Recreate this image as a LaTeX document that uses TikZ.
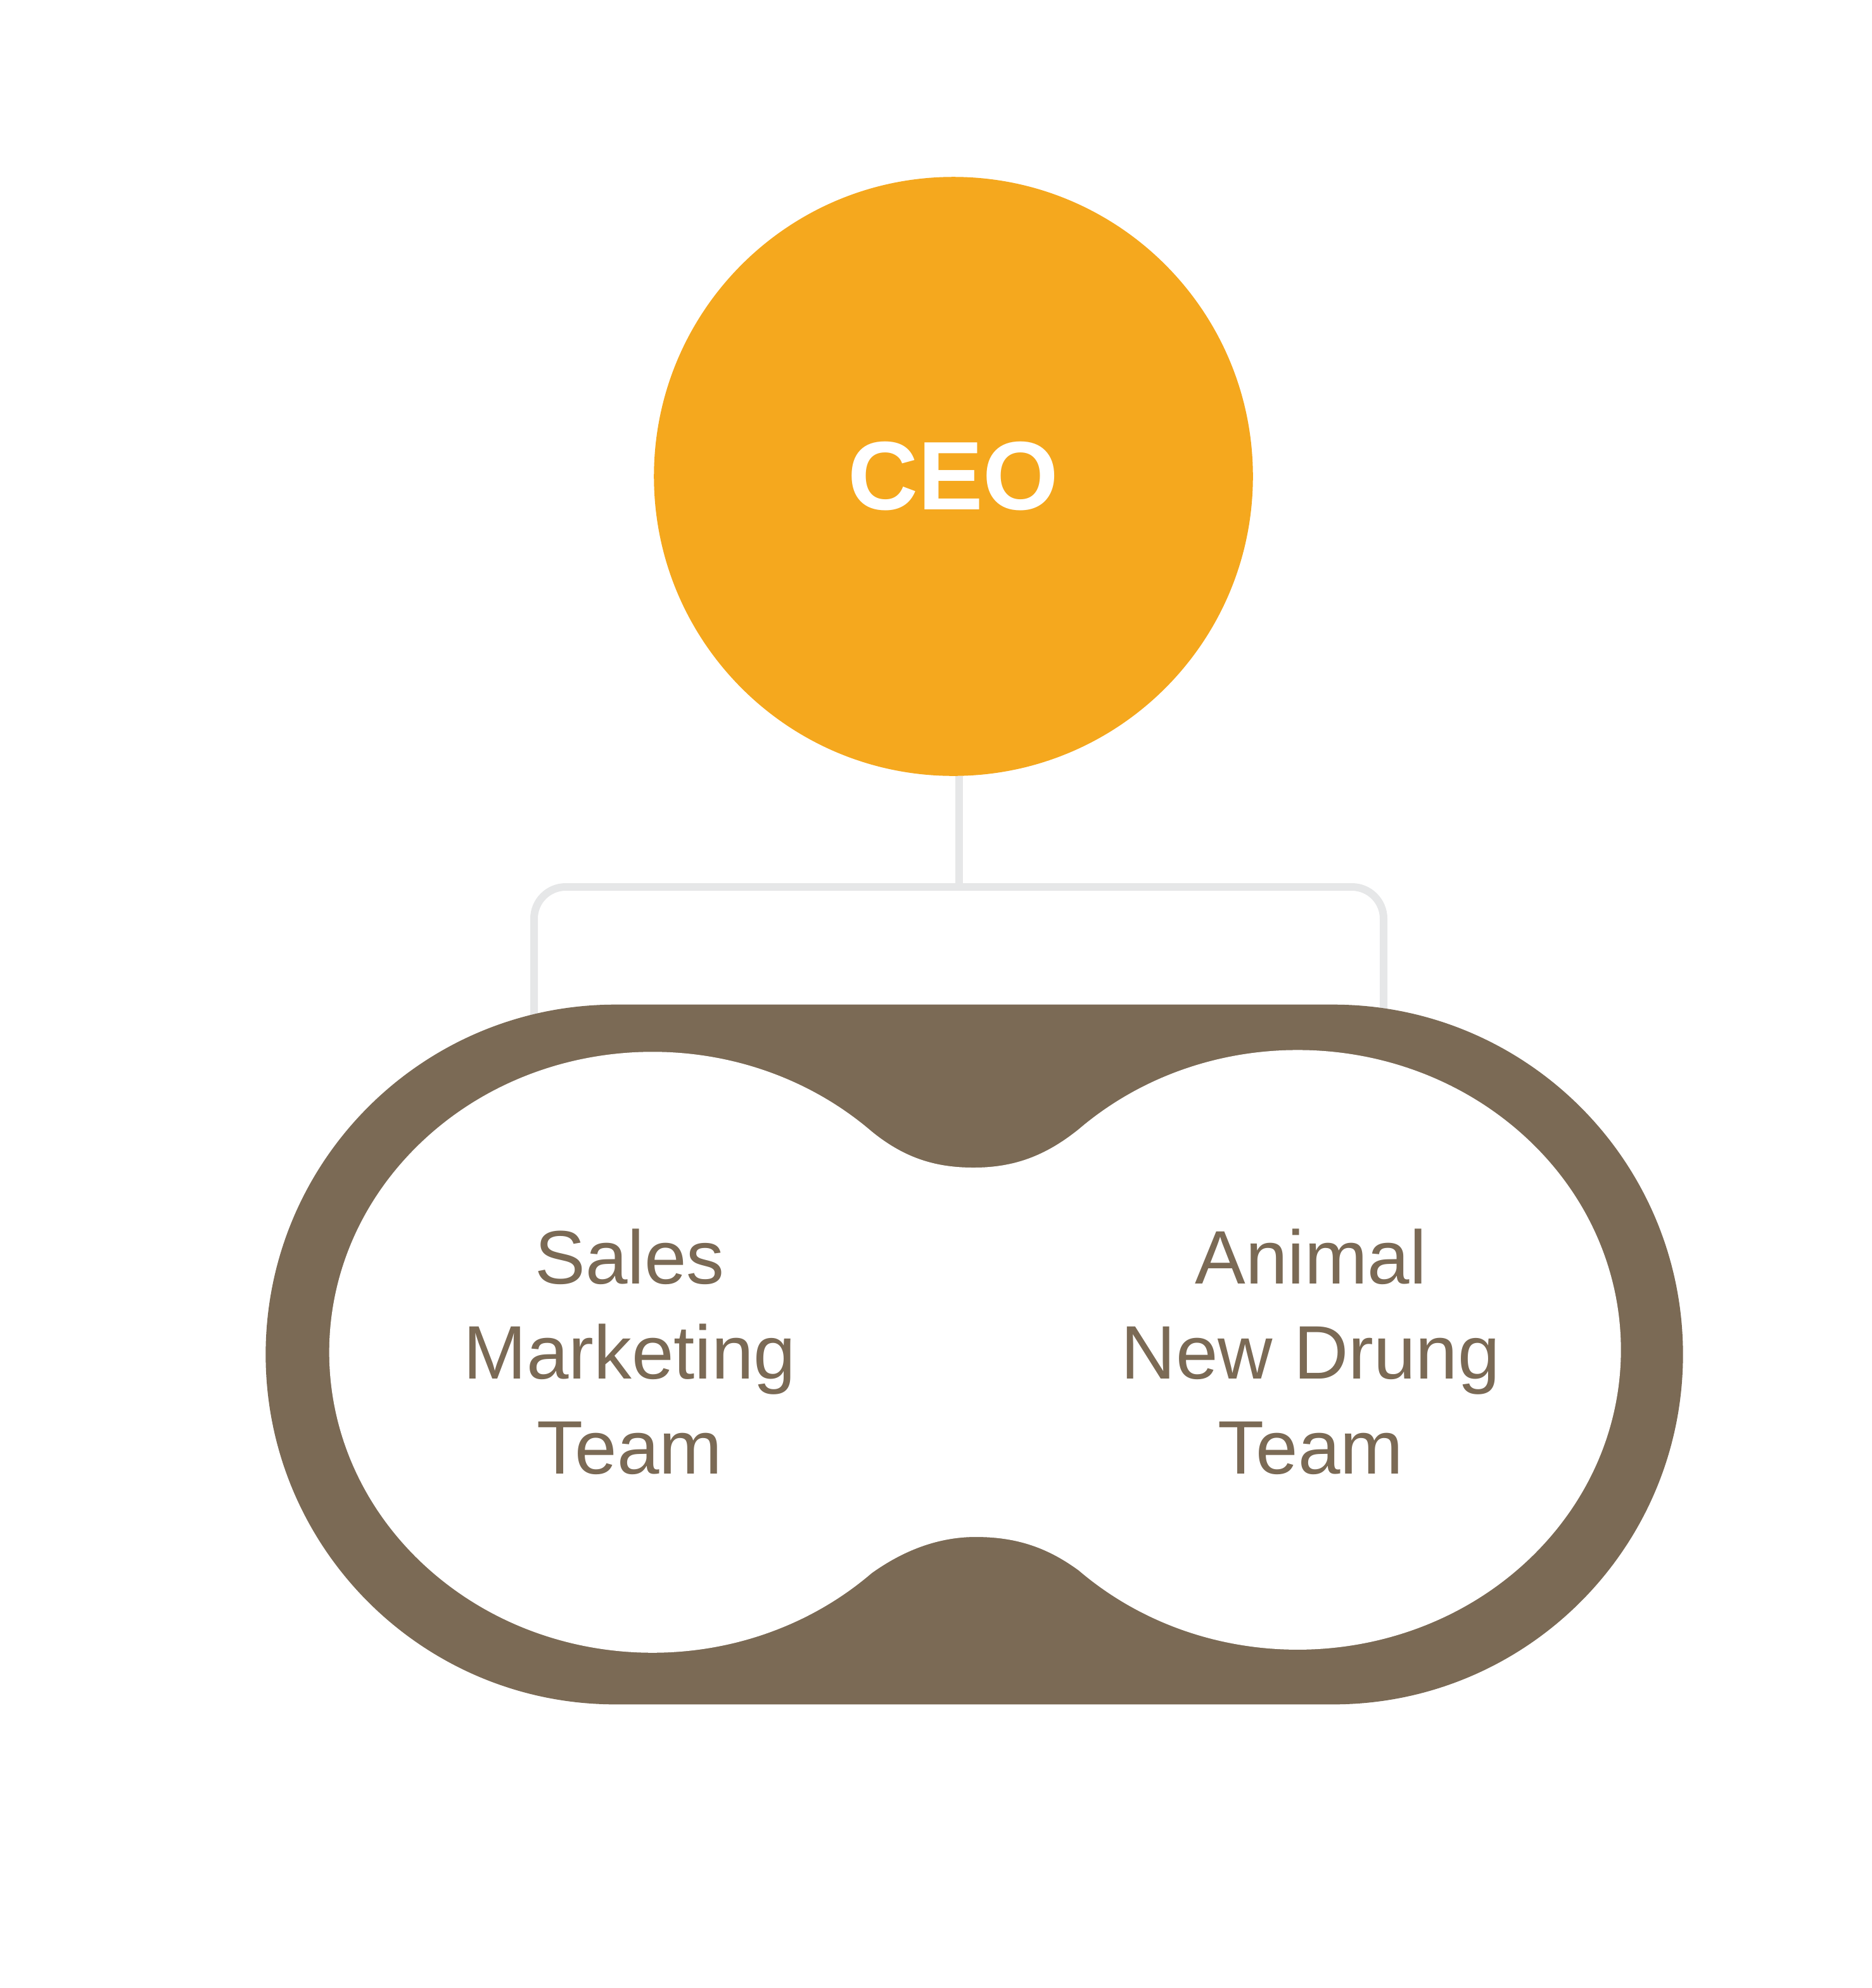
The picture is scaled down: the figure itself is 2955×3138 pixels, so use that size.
\documentclass[tikz,border=0pt]{standalone}
\usepackage{fontspec}
\usetikzlibrary{shapes.misc}
\newfontfamily\labelfont{Liberation Sans}
\definecolor{ceoorange}{HTML}{F5A81E}
\definecolor{teambrown}{HTML}{7B6A55}
\definecolor{linkgray}{HTML}{E6E7E8}
\tikzset{
  link/.style={linkgray, line width=1.2mm},
  teamtext/.style={teambrown, align=center, font={\labelfont\fontsize{34}{42.7}\selectfont}}
}
\begin{document}
\begin{tikzpicture}[x=0.01cm, y=-0.01cm]
    \useasboundingbox (0,0) rectangle (2955,3138);

    \node[circle, fill=ceoorange, minimum size=9.45cm, inner sep=0, text=white,
          font={\labelfont\bfseries\fontsize{43.7}{52}\selectfont}] (ceo) at (1505,752) {CEO};

    \coordinate (split) at (1514,1400);
    \coordinate (lfoot) at (843,1640);
    \coordinate (rfoot) at (2184,1640);
    \draw[link] (ceo.south -| split) -- (split);
    \draw[link, rounded corners=0.5cm] (lfoot) |- (split) -| (rfoot);

    \node[rounded rectangle, fill=teambrown, minimum width=22.36cm, minimum height=11.04cm,
          inner sep=0] (teams) at (1538,2138) {};

    % white double lobe
    \fill[white] (1376,1786) arc[start angle=47.3, end angle=312.7, x radius=5.1cm, y radius=4.74cm]
        .. controls (1425,2448) and (1480,2426) .. (1540,2426)
        .. controls (1600,2426) and (1650,2440) .. (1703,2479)
        arc[start angle=227.4, end angle=492.6, x radius=5.1cm, y radius=4.73cm]
        .. controls (1650,1825) and (1600,1843) .. (1537,1843)
        .. controls (1480,1843) and (1430,1830) .. cycle;

    \node[teamtext] (sales) at (994,2134) {Sales\\Marketing\\Team};
    \node[teamtext] (drug) at (2069,2134) {Animal\\New Drung\\Team};
\end{tikzpicture}
\end{document}
